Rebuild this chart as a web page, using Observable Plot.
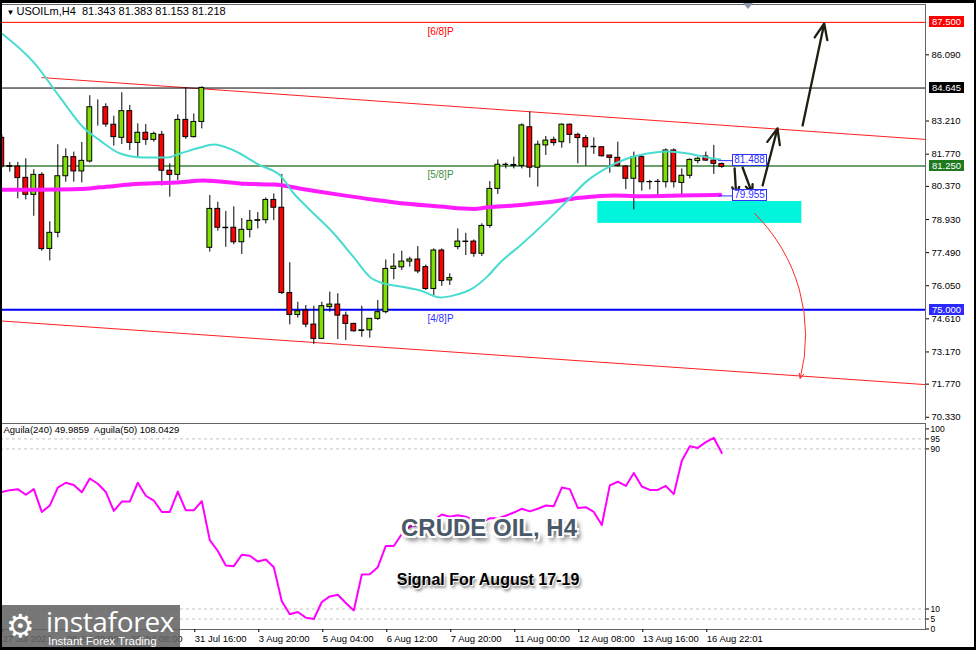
<!DOCTYPE html>
<html><head><meta charset="utf-8">
<script src="https://cdn.jsdelivr.net/npm/d3@7"></script>
<script src="https://cdn.jsdelivr.net/npm/@observablehq/plot@0.6"></script>
<style>
html,body{margin:0;padding:0;background:#fff;}
#wrap{position:relative;width:976px;height:650px;background:#fff;overflow:hidden;font-family:"Liberation Sans",Arial,sans-serif;}
.abs{position:absolute;}
.tag{position:absolute;width:35px;height:11px;line-height:11px;font-size:9.5px;color:#fff;text-align:center;font-family:"Liberation Sans",Arial,sans-serif;}
.btag{position:absolute;width:33px;height:10px;line-height:10px;font-size:10px;color:#3030ff;border:1px solid #3030ff;background:#fff;text-align:center;font-family:"Liberation Sans",Arial,sans-serif;}
</style></head><body>
<div id="wrap"></div>
<script>
// ---------------- DATA ----------------
const header = "USOILm,H4  81.343 81.383 81.153 81.218";
const indHeader = "Aguila(240) 49.9859  Aguila(50) 108.0429";
const titleText = "CRUDE OIL, H4";
const subtitleText = "Signal For August 17-19";

const open  = [82.48,81.25,81.23,80.74,80.00,80.87,77.65,78.35,80.81,81.64,81.02,81.45,83.83,83.81,83.05,82.48,83.64,82.26,82.70,82.39,82.61,81.05,80.87,83.26,82.51,83.17,77.70,79.39,78.57,78.57,77.94,78.48,78.87,78.90,79.78,79.44,75.73,74.78,74.97,74.36,73.74,75.12,75.23,74.75,74.39,74.08,74.11,74.61,74.90,76.78,76.85,77.10,77.19,76.86,75.91,77.58,76.28,77.73,77.97,77.97,77.44,78.65,80.26,81.30,81.30,81.26,82.94,81.18,82.15,82.39,82.29,83.05,82.61,82.47,82.09,82.07,81.71,81.61,81.23,80.70,81.64,80.55,80.56,80.55,81.93,80.52,80.83,81.47,81.67,81.49,81.343];
const high  = [82.60,81.41,81.41,81.57,81.09,80.96,78.83,82.18,82.00,81.86,82.28,84.31,84.13,83.96,83.42,84.44,83.89,83.09,83.06,82.73,82.76,81.35,83.48,84.65,83.52,84.70,79.97,79.68,79.28,79.48,78.97,79.32,79.23,79.87,80.04,80.89,77.05,75.33,75.19,75.16,75.33,75.77,75.70,74.90,74.42,75.16,74.61,75.41,77.17,77.44,77.55,77.29,77.75,76.95,77.65,77.65,76.57,78.52,78.33,78.04,78.74,80.58,81.52,81.39,81.64,83.09,83.60,82.34,82.54,82.51,83.09,83.09,82.68,82.58,82.48,82.10,81.71,82.29,81.28,81.86,81.71,80.63,80.67,82.00,82.00,81.13,81.57,81.64,81.86,82.15,81.383];
const low   = [81.15,80.99,79.83,79.78,79.07,77.55,77.13,78.13,80.55,80.55,80.52,81.39,82.99,82.94,82.12,82.19,81.93,81.67,82.15,82.29,80.38,79.90,80.62,82.41,82.47,82.87,77.51,78.42,77.72,77.83,77.41,78.13,78.52,78.74,78.88,75.67,74.35,74.64,74.22,73.49,73.71,74.90,73.71,73.67,74.03,73.81,73.77,74.54,74.83,76.31,76.71,76.86,76.57,75.84,75.62,76.02,76.06,77.61,77.36,77.29,77.32,78.55,80.02,81.13,81.13,81.13,80.74,80.34,81.71,82.12,82.03,82.22,81.35,81.25,81.76,81.64,80.94,81.20,80.23,79.35,80.16,80.22,79.90,80.30,80.30,79.90,80.70,81.35,81.45,80.89,81.153];
const close = [81.23,81.22,80.73,80.00,80.87,77.64,78.35,80.81,81.64,81.02,81.48,83.81,83.83,83.06,82.51,83.64,82.26,82.70,82.39,82.65,81.05,80.87,83.26,82.51,83.17,84.65,79.39,78.57,78.55,77.94,78.48,78.87,78.90,79.78,79.44,75.73,74.78,74.94,74.36,73.74,75.16,75.23,74.75,74.39,74.07,74.11,74.61,74.90,76.78,76.88,77.10,77.19,76.67,75.91,77.58,76.25,76.38,77.97,77.95,77.44,78.65,80.26,81.31,81.31,81.26,83.02,81.18,82.18,82.36,82.25,83.05,82.61,82.47,82.07,82.07,81.68,81.61,81.26,80.70,81.64,80.55,80.56,80.57,81.93,80.55,80.83,81.52,81.57,81.49,81.35,81.218];

// fast MA (cyan) read at sampled bar positions
const maFastIdx = [0,4,7.3,10.2,12.3,14.8,17.7,20.7,22.3,24.8,26.5,29,32.3,34.8,36.5,38.2,41.5,44,46.1,47.7,49.8,52.3,54.8,56.5,59,60.8,62.3,64.8,68.2,70.7,73.2,75.7,78.2,80.7,83.2,85.7,88.2,89.8];
const maFastVal = [87.02,85.76,84.23,82.93,82.36,81.80,81.63,81.63,81.80,82.06,82.19,81.93,81.28,80.84,80.06,79.45,78.32,77.28,76.41,76.15,76.02,75.84,75.54,75.63,75.97,76.49,77.06,77.80,78.89,79.75,80.62,81.19,81.58,81.80,81.89,81.80,81.63,81.54];
// slow MA (magenta)
const maSlowIdx = [0,9.8,12.3,17.3,22.3,25.2,30.5,34,38.2,42.3,46.5,50.7,54.8,59,60.8,64,68.2,72.3,76.5,80.7,84.8,89.8];
const maSlowVal = [80.22,80.26,80.33,80.48,80.55,80.63,80.48,80.45,80.22,80.00,79.79,79.61,79.49,79.39,79.46,79.54,79.68,79.87,79.97,79.94,79.97,80.00];

// horizontal levels
const levels = [87.5, 84.645, 81.25, 75.0];
const levelLabels = ["87.500", "84.645", "81.250", "75.000"];
const murreyLevels = [87.5, 81.25, 75.0];
const murreyLabels = ["[6/8]P", "[5/8]P", "[4/8]P"];

// channel lines (bar index, price)
const channelX1 = [4.96, -0.16];
const channelY1 = [85.10, 74.52];
const channelX2 = [115.46, 115.46];
const channelY2 = [82.41, 71.75];

// support zone
const zoneX = [74.5, 100];
const zoneY = [78.76, 79.71];

// price tags near last bar
const priceTags = [81.488, 79.955];
const priceTagLabels = ["81.488", "79.955"];

// forecast arrows (bar index, price)
const arrowX1 = [91.6, 92.6, 95.1, 100.1];
const arrowY1 = [81.15, 81.19, 80.41, 83.02];
const arrowX2 = [91.8, 93.8, 96.96, 102.8];
const arrowY2 = [79.97, 80.06, 82.89, 87.45];
const redArrow = {x1: 94.1, y1: 79.19, x2: 99.8, y2: 72.02};

// right-axis ticks
const yTicks = [86.09, 83.21, 81.77, 80.37, 78.93, 77.49, 76.05, 74.61, 73.17, 71.77, 70.33];

// Aguila oscillator
const aguila = [68.5,69.4,69.9,67.1,69.9,58.5,61.7,70.7,73.1,72.0,68.3,75.2,72.6,68.5,59.0,63.7,63.7,73.1,66.6,64.2,58.5,58.5,68.7,59.3,59.3,63.9,44.4,39.0,31.7,31.4,37.1,36.6,33.7,34.7,30.9,13.9,7.4,8.5,5.7,5.0,13.5,16.3,17.1,13.0,9.3,27.2,27.4,30.9,41.5,41.5,47.5,51.2,52.0,52.8,54.4,57.2,56.1,56.9,56.1,54.4,53.6,55.3,55.3,56.6,58.2,60.1,58.8,60.1,61.7,61.4,70.7,69.9,60.5,60.9,58.5,52.0,71.8,73.6,71.5,78.0,71.2,69.5,69.5,71.5,67.4,84.1,91.3,90.5,93.4,95.5,88.0];
const aguilaLevels = [95, 90, 10, 5];
const aguilaTicks = [100, 95, 90, 10, 5, 0];

// time axis
const timeTickIdx = [0, 8, 16, 24, 32, 40, 48, 56, 64, 72, 80, 88];
const timeTickLabels = ["27 Jul 2022", "28 Jul 00:00", "29 Jul 08:00", "31 Jul 16:00", "3 Aug 20:00", "5 Aug 04:00", "6 Aug 12:00", "7 Aug 20:00", "11 Aug 00:00", "12 Aug 08:00", "13 Aug 16:00", "16 Aug 22:01"];

// ---------------- BUILD ----------------
const candles = open.map((o, i) => ({i, open: o, high: high[i], low: low[i], close: close[i]}));
const fast = maFastIdx.map((x, k) => ({x, y: maFastVal[k]}));
const slow = maSlowIdx.map((x, k) => ({x, y: maSlowVal[k]}));
const channels = channelX1.map((x1, k) => ({x1, y1: channelY1[k], x2: channelX2[k], y2: channelY2[k]}));
const arrows = arrowX1.map((x1, k) => ({x1, y1: arrowY1[k], x2: arrowX2[k], y2: arrowY2[k]}));
const murrey = murreyLevels.map((v, k) => ({v, label: murreyLabels[k]}));
const lastIdx = candles.length - 1;

const levelColor = ["#ff0000", "#000000", "#3d7f3d", "#0000ff"];
const tagColor = ["#ff0000", "#000000", "#1f7a1f", "#2a2aff"];
const levelWidth = [1, 1, 1.5, 2];
const murreyColor = ["#ff0000", "#3d8f3d", "#3030ff"];
const bull = "#7fe000", bear = "#ff0000";
const xDomain = [-0.1625, 115.46];
const font = "'Liberation Sans', Arial, sans-serif";

const main = Plot.plot({
  width: 976, height: 421,
  marginLeft: 0, marginRight: 51, marginTop: 4, marginBottom: 1,
  x: {domain: xDomain, axis: null, label: null},
  y: {domain: [70.19, 88.277], label: null},
  color: {type: "identity"},
  style: {fontFamily: font, fontSize: "9.5px", background: "white", color: "black", overflow: "visible"},
  marks: [
    Plot.rect([0], {x1: () => zoneX[0], x2: () => zoneX[1], y1: () => zoneY[0], y2: () => zoneY[1], fill: "#00f5dc"}),
    Plot.link(channels, {x1: "x1", y1: "y1", x2: "x2", y2: "y2", stroke: "#ff2020", strokeWidth: 1, clip: true}),
    ...levels.map((v, k) => Plot.ruleY([v], {stroke: levelColor[k], strokeWidth: levelWidth[k]})),
    Plot.text(murrey, {y: "v", text: "label", frameAnchor: "left", dx: 440, dy: 9, textAnchor: "middle", fill: (d, k) => murreyColor[k], fontSize: 10}),
    Plot.ruleX(candles, {x: "i", y1: "low", y2: "high", stroke: "#000", strokeWidth: 1, clip: true}),
    Plot.rect(candles, {x1: d => d.i - 0.3, x2: d => d.i + 0.3, y1: "open", y2: "close", fill: d => d.close >= d.open ? bull : bear, stroke: "#000", strokeWidth: 1, clip: true}),
    Plot.line(slow, {x: "x", y: "y", stroke: "#ff1cff", strokeWidth: 4, curve: "monotone-x", clip: true}),
    Plot.line(fast, {x: "x", y: "y", stroke: "#48dcd0", strokeWidth: 2, curve: "monotone-x", clip: true}),
    Plot.ruleY(priceTags, {x1: lastIdx - 0.4, x2: lastIdx + 1.35, stroke: "#3030ff", strokeWidth: 1}),
    Plot.arrow(arrows, {x1: "x1", y1: "y1", x2: "x2", y2: "y2", stroke: "#1e1e12", strokeWidth: 2.3, headLength: 11, headAngle: 45}),
    Plot.arrow([redArrow], {x1: "x1", y1: "y1", x2: "x2", y2: "y2", stroke: "#ff2a2a", strokeWidth: 1, bend: 30, headLength: 8, headAngle: 50}),
    Plot.frame({stroke: "#666"}),
    Plot.axisY(yTicks, {anchor: "right", tickSize: 3, tickPadding: 3, tickFormat: d => d.toFixed(3)}),
    Plot.text(["\u25BC"], {frameAnchor: "top-left", dx: 6, dy: 5, fontSize: 8}),
    Plot.text([header], {frameAnchor: "top-left", dx: 16, dy: 3, fontSize: 11})
  ]
});

const ind = Plot.plot({
  width: 976, height: 230,
  marginLeft: 0, marginRight: 51, marginTop: 3, marginBottom: 21,
  x: {domain: xDomain, label: null},
  y: {domain: [-0.24, 102.7], label: null},
  style: {fontFamily: font, fontSize: "9.5px", background: "white", color: "black", overflow: "visible"},
  marks: [
    Plot.ruleY(aguilaLevels, {stroke: "#c4c4c4", strokeDasharray: "3,3"}),
    Plot.line(aguila, {x: (d, i) => i, y: d => d, stroke: "#ff00ff", strokeWidth: 2}),
    Plot.frame({stroke: "#666"}),
    Plot.axisY(aguilaTicks, {anchor: "right", tickSize: 3, tickPadding: 2, fontSize: 8.5}),
    Plot.axisX(timeTickIdx, {anchor: "bottom", tickSize: 3, tickPadding: 3, textAnchor: "start", dx: 1, tickFormat: d => timeTickLabels[timeTickIdx.indexOf(d)]}),
    Plot.text([indHeader], {frameAnchor: "top-left", dx: 3, dy: 3, fontSize: 9.5})
  ]
});

const wrap = document.getElementById("wrap");
main.style.position = "absolute"; main.style.left = "0px"; main.style.top = "0px";
ind.style.position = "absolute"; ind.style.left = "0px"; ind.style.top = "420px";
wrap.appendChild(main);
wrap.appendChild(ind);

function addDiv(cls, css, html) {
  const d = document.createElement("div");
  if (cls) d.className = cls;
  Object.assign(d.style, css);
  d.innerHTML = html || "";
  wrap.appendChild(d);
  return d;
}

const ys = main.scale("y"), xs = main.scale("x");
levels.forEach((v, k) => {
  addDiv("tag", {left: "929px", top: (ys.apply(v) - 5.5) + "px", background: tagColor[k]}, levelLabels[k]);
});
priceTags.forEach((v, k) => {
  addDiv("btag", {left: (xs.apply(lastIdx + 1.35)) + "px", top: (ys.apply(v) - 6) + "px"}, priceTagLabels[k]);
});

// chart-shift marker
addDiv("abs", {left: "743px", top: "3px", width: "0", height: "0", borderLeft: "5px solid transparent", borderRight: "5px solid transparent", borderTop: "6px solid #8a96a8"});

// titles
addDiv("abs", {left: "489px", top: "528px", transform: "translate(-50%,-50%)", font: "bold 24px 'Liberation Sans', Arial, sans-serif", color: "#4a5967", whiteSpace: "nowrap",
  textShadow: "1px 0 0 #fff,-1px 0 0 #fff,0 1px 0 #fff,0 -1px 0 #fff,2px 2px 0 #fff,-2px -2px 0 #fff,2px -2px 0 #fff,-2px 2px 0 #fff,3px 4px 5px rgba(0,0,0,0.8)"}, titleText);
addDiv("abs", {left: "488px", top: "580px", transform: "translate(-50%,-50%)", font: "bold 16px 'Liberation Sans', Arial, sans-serif", color: "#000", whiteSpace: "nowrap",
  textShadow: "1px 1px 0 #fff, 2px 3px 3px rgba(0,0,0,0.55)"}, subtitleText);

// logo
const logo = addDiv("abs", {left: "0px", top: "605px", width: "180px", height: "45px", background: "rgba(100,100,100,0.88)", color: "#fff"});
logo.innerHTML = '<div style="position:absolute;left:6px;top:3px;font-size:32px;line-height:36px;font-family:\'DejaVu Sans\'">\u2699</div>' +
  '<div style="position:absolute;left:46px;top:0px;font-size:28px;line-height:32px;font-family:\'Open Sans\',sans-serif;letter-spacing:-0.3px">instaforex</div>' +
  '<div style="position:absolute;left:48px;top:30px;font-size:11.5px;line-height:13px;font-family:\'Liberation Sans\',Arial">Instant Forex Trading</div>';

// outer black border
addDiv("abs", {left: "0", top: "0", width: "976px", height: "3px", background: "#000"});
addDiv("abs", {left: "0", top: "0", width: "2px", height: "650px", background: "#000"});
addDiv("abs", {left: "974px", top: "0", width: "2px", height: "650px", background: "#000"});
addDiv("abs", {left: "0", top: "647px", width: "976px", height: "3px", background: "#000"});
</script>
</body></html>
